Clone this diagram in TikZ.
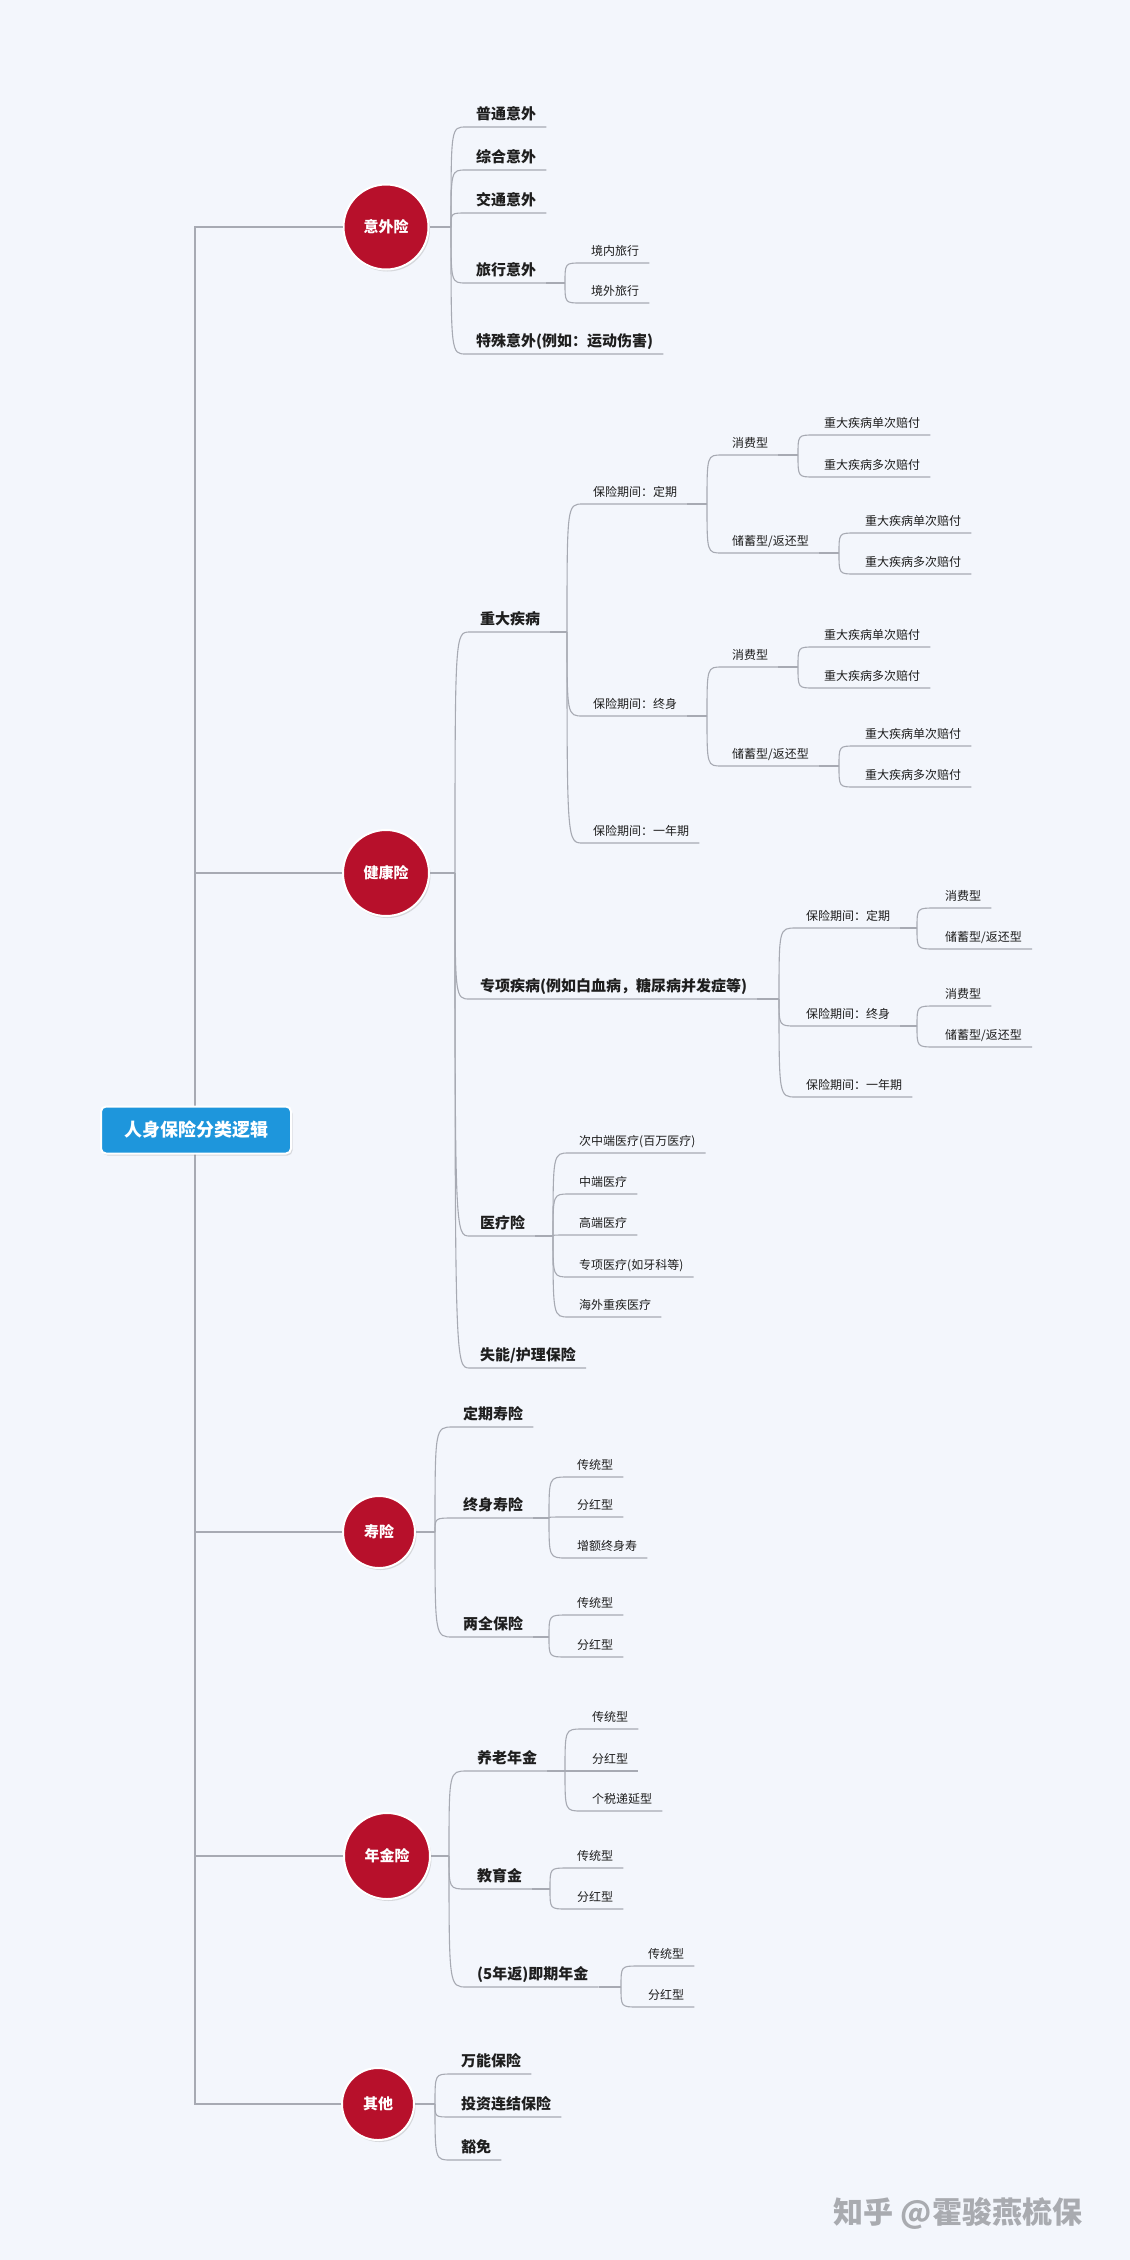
\documentclass[tikz,border=0pt]{standalone}
\usepackage{fontspec}
\newfontfamily\cjk{Noto Sans CJK SC}
\usetikzlibrary{shadows}
\definecolor{bgc}{HTML}{F3F6FC}
\definecolor{lnc}{HTML}{A7AAB3}
\definecolor{catred}{HTML}{B7102B}
\definecolor{rootblue}{HTML}{1E96DC}
\definecolor{txt}{HTML}{1E1E1E}
\definecolor{wmc}{HTML}{A9ABB0}
\newcommand{\mmleaf}[5]{%
  \node[#1] (#2) at (#3) {#4};
  \draw[conn] (#5) .. controls (#5 |- #2.south west) .. (#2.south west) -- (#2.south east);}
\newcommand{\mmsp}[3]{%
  \coordinate (#1) at (#2);
  \draw[conn] (#3.south east) -- (#1);}
\tikzset{
  conn/.style={draw=lnc, line width=1.1pt},
  trunk/.style={draw=lnc, line width=1.6pt},
  lv1/.style={anchor=south west, inner xsep=10pt, inner ysep=4pt, text height=13pt, text depth=3pt,
    font=\cjk\fontsize{15}{18}\selectfont\bfseries, text=txt},
  lv2/.style={anchor=south west, inner xsep=10pt, inner ysep=4pt, text height=10.5pt, text depth=3pt,
    font=\cjk\fontsize{12}{14}\selectfont, text=txt},
  cat/.style={circle, fill=catred, draw=white, line width=2pt, text=white, inner sep=0pt,
    font=\cjk\fontsize{15}{18}\selectfont\bfseries,
    drop shadow={opacity=0.25, shadow xshift=1.5pt, shadow yshift=-2pt}},
  rootbox/.style={rectangle, rounded corners=5pt, fill=rootblue, draw=white, line width=2pt,
    minimum width=190pt, minimum height=47pt, text=white, inner sep=0pt,
    font=\cjk\fontsize{18}{22}\selectfont\bfseries,
    drop shadow={opacity=0.25, shadow xshift=1.5pt, shadow yshift=-2pt}},
  wmark/.style={text=wmc, font=\cjk\fontsize{30}{34}\selectfont\bfseries, inner sep=0pt}
}
\begin{document}
\begin{tikzpicture}[x=1pt,y=-1pt]
\fill[bgc] (0,0) rectangle (1130,2260);
\useasboundingbox (0,0) rectangle (1130,2260);

% root and categories
\node[cat, minimum size=85pt] (yw) at (386,227) {意外险};
\node[cat, minimum size=86pt] (jk) at (386,873) {健康险};
\node[cat, minimum size=72pt] (sx) at (379,1532) {寿险};
\node[cat, minimum size=86pt] (nj) at (387,1856) {年金险};
\node[cat, minimum size=72pt] (qt) at (378,2104) {其他};
\coordinate (rtop) at (195,1110);
\coordinate (rbot) at (195,1150);
\draw[trunk] (yw) -| (rtop);
\draw[trunk] (jk) -| (rtop);
\draw[trunk] (sx) -| (rbot);
\draw[trunk] (nj) -| (rbot);
\draw[trunk] (qt) -| (rbot);
\node[rootbox] (root) at (196,1130) {人身保险分类逻辑};

% 意外险
\coordinate (s-yw) at (451,227); \draw[conn] (yw) -- (s-yw);
\mmleaf{lv1}{a1}{466,127}{普通意外}{s-yw}
\mmleaf{lv1}{a2}{466,170}{综合意外}{s-yw}
\mmleaf{lv1}{a3}{466,213}{交通意外}{s-yw}
\mmleaf{lv1}{a4}{466,283}{旅行意外}{s-yw}
\mmsp{s-a4}{565,283}{a4}
\mmleaf{lv2}{a41}{581,263}{境内旅行}{s-a4}
\mmleaf{lv2}{a42}{581,303}{境外旅行}{s-a4}
\mmleaf{lv1}{a5}{466,354}{特殊意外(例如：运动伤害)}{s-yw}

% 健康险
\coordinate (s-jk) at (455,873); \draw[conn] (jk) -- (s-jk);
\mmleaf{lv1}{b1}{470,632}{重大疾病}{s-jk}
\mmsp{s-b1}{567,632}{b1}
\mmleaf{lv2}{b11}{583,504}{保险期间：定期}{s-b1}
\mmsp{s-b11}{707,504}{b11}
\mmleaf{lv2}{b111}{722,455}{消费型}{s-b11}
\mmsp{s-b111}{798,455}{b111}
\mmleaf{lv2}{b1111}{814,435}{重大疾病单次赔付}{s-b111}
\mmleaf{lv2}{b1112}{814,477}{重大疾病多次赔付}{s-b111}
\mmleaf{lv2}{b112}{722,553}{储蓄型/返还型}{s-b11}
\mmsp{s-b112}{839,553}{b112}
\mmleaf{lv2}{b1121}{855,533}{重大疾病单次赔付}{s-b112}
\mmleaf{lv2}{b1122}{855,574}{重大疾病多次赔付}{s-b112}
\mmleaf{lv2}{b12}{583,716}{保险期间：终身}{s-b1}
\mmsp{s-b12}{707,716}{b12}
\mmleaf{lv2}{b121}{722,667}{消费型}{s-b12}
\mmsp{s-b121}{798,667}{b121}
\mmleaf{lv2}{b1211}{814,647}{重大疾病单次赔付}{s-b121}
\mmleaf{lv2}{b1212}{814,688}{重大疾病多次赔付}{s-b121}
\mmleaf{lv2}{b122}{722,766}{储蓄型/返还型}{s-b12}
\mmsp{s-b122}{839,766}{b122}
\mmleaf{lv2}{b1221}{855,746}{重大疾病单次赔付}{s-b122}
\mmleaf{lv2}{b1222}{855,787}{重大疾病多次赔付}{s-b122}
\mmleaf{lv2}{b13}{583,843}{保险期间：一年期}{s-b1}

\mmleaf{lv1}{b2}{470,999}{专项疾病(例如白血病，糖尿病并发症等)}{s-jk}
\mmsp{s-b2}{779,999}{b2}
\mmleaf{lv2}{b21}{796,928}{保险期间：定期}{s-b2}
\mmsp{s-b21}{917,928}{b21}
\mmleaf{lv2}{b211}{935,908}{消费型}{s-b21}
\mmleaf{lv2}{b212}{935,949}{储蓄型/返还型}{s-b21}
\mmleaf{lv2}{b22}{796,1026}{保险期间：终身}{s-b2}
\mmsp{s-b22}{917,1026}{b22}
\mmleaf{lv2}{b221}{935,1006}{消费型}{s-b22}
\mmleaf{lv2}{b222}{935,1047}{储蓄型/返还型}{s-b22}
\mmleaf{lv2}{b23}{796,1097}{保险期间：一年期}{s-b2}

\mmleaf{lv1}{b3}{470,1236}{医疗险}{s-jk}
\mmsp{s-b3}{553,1236}{b3}
\mmleaf{lv2}{b31}{569,1153}{次中端医疗(百万医疗)}{s-b3}
\mmleaf{lv2}{b32}{569,1194}{中端医疗}{s-b3}
\mmleaf{lv2}{b33}{569,1235}{高端医疗}{s-b3}
\mmleaf{lv2}{b34}{569,1277}{专项医疗(如牙科等)}{s-b3}
\mmleaf{lv2}{b35}{569,1317}{海外重疾医疗}{s-b3}
\mmleaf{lv1}{b4}{470,1368}{失能/护理保险}{s-jk}

% 寿险
\coordinate (s-sx) at (435,1532); \draw[conn] (sx) -- (s-sx);
\mmleaf{lv1}{c1}{453,1427}{定期寿险}{s-sx}
\mmleaf{lv1}{c2}{453,1518}{终身寿险}{s-sx}
\mmsp{s-c2}{549,1518}{c2}
\mmleaf{lv2}{c21}{567,1477}{传统型}{s-c2}
\mmleaf{lv2}{c22}{567,1517}{分红型}{s-c2}
\mmleaf{lv2}{c23}{567,1558}{增额终身寿}{s-c2}
\mmleaf{lv1}{c3}{453,1637}{两全保险}{s-sx}
\mmsp{s-c3}{549,1637}{c3}
\mmleaf{lv2}{c31}{567,1615}{传统型}{s-c3}
\mmleaf{lv2}{c32}{567,1657}{分红型}{s-c3}

% 年金险
\coordinate (s-nj) at (449,1856); \draw[conn] (nj) -- (s-nj);
\mmleaf{lv1}{d1}{467,1771}{养老年金}{s-nj}
\mmsp{s-d1}{565,1771}{d1}
\mmleaf{lv2}{d11}{582,1729}{传统型}{s-d1}
\mmleaf{lv2}{d12}{582,1771}{分红型}{s-d1}
\mmleaf{lv2}{d13}{582,1811}{个税递延型}{s-d1}
\mmleaf{lv1}{d2}{467,1889}{教育金}{s-nj}
\mmsp{s-d2}{550,1889}{d2}
\mmleaf{lv2}{d21}{567,1868}{传统型}{s-d2}
\mmleaf{lv2}{d22}{567,1909}{分红型}{s-d2}
\mmleaf{lv1}{d3}{467,1987}{(5年返)即期年金}{s-nj}
\mmsp{s-d3}{621,1987}{d3}
\mmleaf{lv2}{d31}{638,1966}{传统型}{s-d3}
\mmleaf{lv2}{d32}{638,2007}{分红型}{s-d3}

% 其他
\coordinate (s-qt) at (435,2104); \draw[conn] (qt) -- (s-qt);
\mmleaf{lv1}{e1}{451,2074}{万能保险}{s-qt}
\mmleaf{lv1}{e2}{451,2117}{投资连结保险}{s-qt}
\mmleaf{lv1}{e3}{451,2160}{豁免}{s-qt}

% watermark
\node[wmark] (wm) at (958,2213) {知乎 @霍骏燕梳保};
\end{tikzpicture}
\end{document}
